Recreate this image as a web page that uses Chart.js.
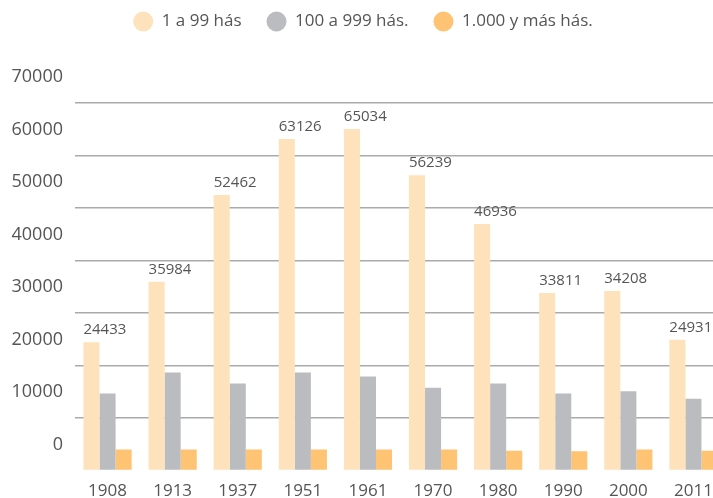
<!DOCTYPE html>
<html>
<head>
<meta charset="utf-8">
<script src="https://cdn.jsdelivr.net/npm/chart.js@4"></script>
<style>
  html, body { margin:0; padding:0; background:#fff; overflow:hidden; }
  #wrap { width:726px; height:498px; position:relative; }
</style>
</head>
<body>
<div id="wrap"><canvas id="chart"></canvas></div>
<script>
const years   = ['1908','1913','1937','1951','1961','1970','1980','1990','2000','2011'];
const small   = [24433, 35984, 52462, 63126, 65034, 56239, 46936, 33811, 34208, 24931];
const medium  = [14700, 18700, 16600, 18700, 17900, 15800, 16600, 14700, 15100, 13700];
const large   = [4000, 4000, 4000, 4000, 4000, 4000, 3800, 3700, 4000, 3800];
const seriesNames = ['1 a 99 hás', '100 a 999 hás.', '1.000 y más hás.'];
const yTicks  = [0, 10000, 20000, 30000, 40000, 50000, 60000, 70000];

const FONT = "'Open Sans', sans-serif";
const TEXT = '#555555';

// extra room under the legend
const legendGap = {
  id: 'legendGap',
  beforeInit(chart) {
    const fit = chart.legend.fit;
    chart.legend.fit = function() { fit.call(this); this.height += 63; };
  }
};

// value labels over the first series, left-aligned to the bar
const valueLabels = {
  id: 'valueLabels',
  afterDatasetsDraw(chart) {
    const ctx = chart.ctx;
    const meta = chart.getDatasetMeta(0);
    ctx.save();
    ctx.font = '15px ' + FONT;
    ctx.fillStyle = TEXT;
    ctx.textAlign = 'left';
    ctx.textBaseline = 'alphabetic';
    meta.data.forEach((bar, i) => {
      ctx.fillText(String(small[i]), bar.x - bar.width / 2, bar.y - 8);
    });
    ctx.restore();
  }
};

new Chart(document.getElementById('chart'), {
  type: 'bar',
  data: {
    labels: years,
    datasets: [
      { label: seriesNames[0], data: small,  backgroundColor: '#fde2bb' },
      { label: seriesNames[1], data: medium, backgroundColor: '#bbbcc0' },
      { label: seriesNames[2], data: large,  backgroundColor: '#fec373' }
    ]
  },
  options: {
    responsive: true, maintainAspectRatio: false, animation: false,
    layout: { padding: { top: -12, left: 0, right: 0, bottom: -5 } },
    datasets: { bar: { categoryPercentage: 0.74, barPercentage: 1 } },
    plugins: {
      legend: {
        position: 'top',
        labels: {
          usePointStyle: true, pointStyle: 'circle', boxHeight: 14.2, pointStyleWidth: 20,
          padding: 25, color: TEXT, font: { family: FONT, size: 17 }
        }
      },
      tooltip: { enabled: false }
    },
    scales: {
      x: {
        grid: { display: false },
        border: { display: false },
        ticks: { color: TEXT, font: { family: FONT, size: 17 }, padding: 2 }
      },
      y: {
        min: 0, max: 70000,
        afterBuildTicks: s => { s.ticks = yTicks.map(v => ({ value: v })); },
        afterFit: s => { s.width = 75; },
        grid: {
          drawTicks: false, lineWidth: 1.5,
          color: c => c.tick && c.tick.value === 0 ? 'rgba(0,0,0,0)' : '#aaaaaa'
        },
        border: { display: false },
        ticks: {
          color: TEXT, font: { family: FONT, size: 18 }, padding: 12, labelOffset: -26,
          callback: v => String(v)
        }
      }
    }
  },
  plugins: [legendGap, valueLabels]
});
</script>
</body>
</html>
